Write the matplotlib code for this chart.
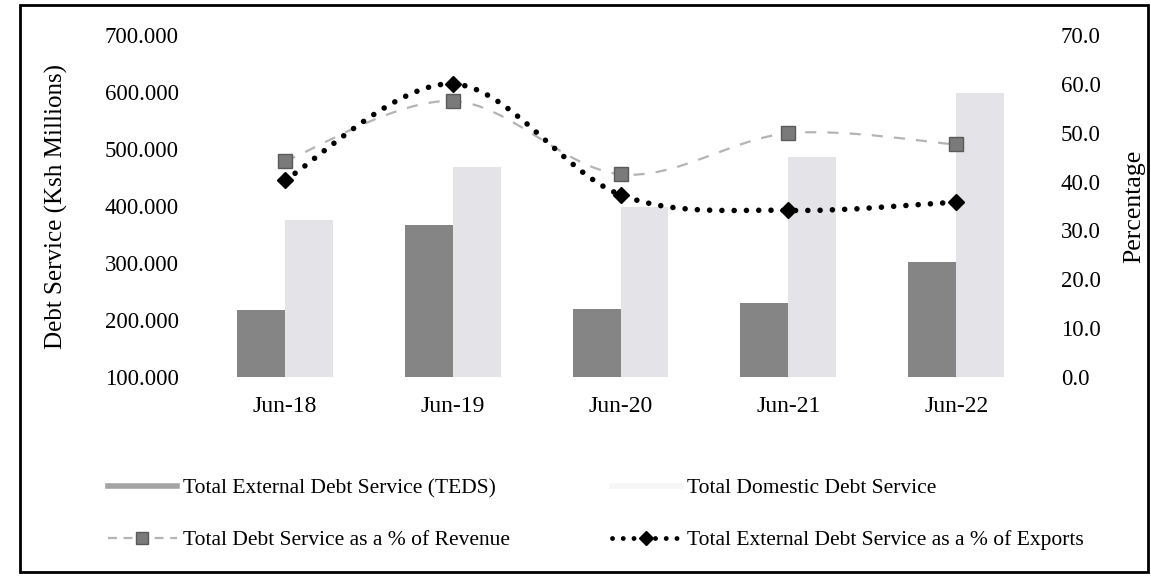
import matplotlib
matplotlib.use("Agg")
import matplotlib.pyplot as plt
from matplotlib.path import Path
from matplotlib.patches import PathPatch, Rectangle
from matplotlib.lines import Line2D
import numpy as np

plt.rcParams['font.family'] = ['Liberation Serif', 'DejaVu Serif']

# data
periods = ['Jun-18', 'Jun-19', 'Jun-20', 'Jun-21', 'Jun-22']
external_ds = [217, 367, 220, 229, 302]      # Ksh millions (dark bars)
domestic_ds = [375, 469, 399, 486, 598]      # Ksh millions (light bars)
pct_revenue = [44.2, 56.5, 41.5, 49.9, 47.6]  # %
pct_exports = [40.3, 60.0, 37.3, 34.1, 35.8]  # %

dark_col = '#858585'
light_col = '#e3e3e8'
rev_col = '#b4b4b4'


def smooth_path(xs, ys):
    # Catmull-Rom style smoothing (like Excel's "smoothed line")
    pts = np.column_stack([xs, ys]).astype(float)
    n = len(pts)
    verts = [pts[0]]
    codes = [Path.MOVETO]
    for i in range(n - 1):
        p0 = pts[i - 1] if i > 0 else pts[i]
        p1 = pts[i]
        p2 = pts[i + 1]
        p3 = pts[i + 2] if i + 2 < n else pts[i + 1]
        c1 = p1 + (p2 - p0) / 6.0
        c2 = p2 - (p3 - p1) / 6.0
        verts += [c1, c2, p2]
        codes += [Path.CURVE4] * 3
    return Path(verts, codes)


fig = plt.figure(figsize=(11.51, 5.77), dpi=100)
ax = fig.add_axes([0.1746, 0.3466, 0.7290, 0.5927])

x = np.arange(len(periods))
w = 0.285
ax.bar(x - w / 2, external_ds, width=w, color=dark_col, zorder=2)
ax.bar(x + w / 2, domestic_ds, width=w, color=light_col, zorder=2)

ax.set_xlim(-0.5, len(periods) - 0.5)
ax.set_ylim(100, 700)
ax.set_yticks(range(100, 701, 100))
ax.set_yticklabels([f'{v:.3f}' for v in range(100, 701, 100)])
ax.set_xticks(x)
ax.set_xticklabels(periods)
ax.tick_params(axis='y', length=0, pad=16, labelsize=16.5)
ax.tick_params(axis='x', length=0, pad=14, labelsize=17)
for s in ax.spines.values():
    s.set_visible(False)
ax.set_ylabel('Debt Service (Ksh Millions)', fontsize=18)
ax.yaxis.set_label_coords(-0.158, 0.5)

ax2 = ax.twinx()
ax2.set_ylim(0, 70)
ax2.set_yticks(range(0, 71, 10))
ax2.set_yticklabels([f'{v:.1f}' for v in range(0, 71, 10)])
ax2.tick_params(axis='y', length=0, pad=15, labelsize=16.5)
for s in ax2.spines.values():
    s.set_visible(False)
ax2.set_ylabel('Percentage', fontsize=18.5)
ax2.yaxis.set_label_coords(1.099, 0.5)

# smoothed lines
ax2.add_patch(PathPatch(smooth_path(x, pct_revenue), fill=False, edgecolor=rev_col,
                        lw=1.6, linestyle=(0, (5, 5)), zorder=3))
ax2.add_patch(PathPatch(smooth_path(x, pct_exports), fill=False, edgecolor='black',
                        lw=4, linestyle=(0, (0.01, 2.2)), capstyle='round', zorder=3))
ax2.plot(x, pct_revenue, linestyle='none', marker='s', markersize=10,
         markerfacecolor='#7a7a7a', markeredgecolor='#5a5a5a', zorder=4)
ax2.plot(x, pct_exports, linestyle='none', marker='D', markersize=8,
         markerfacecolor='black', markeredgecolor='black', zorder=4)

h_teds = Line2D([], [], color='#a4a4a4', lw=4)
h_rev = Line2D([], [], color=rev_col, lw=1.6, linestyle=(0, (4, 3)), marker='s',
               markersize=8, markerfacecolor='#7a7a7a', markeredgecolor='#5a5a5a')
h_dom = Line2D([], [], color='#f6f6f6', lw=4)
h_exp = Line2D([], [], color='black', lw=3.5, linestyle=(0, (0.01, 2.2)),
               dash_capstyle='round', marker='D', markersize=7)

leg_kw = dict(loc='upper left', frameon=False, fontsize=15.5, handlelength=3.2,
              handletextpad=0.3, labelspacing=1.5, borderpad=0, borderaxespad=0)
leg1 = fig.legend([h_teds, h_rev],
                  ['Total External Debt Service (TEDS)',
                   'Total Debt Service as a % of Revenue'],
                  bbox_to_anchor=(108 / 1151, 1 - 478 / 577), **leg_kw)
fig.legend([h_dom, h_exp],
           ['Total Domestic Debt Service',
            'Total External Debt Service as a % of Exports'],
           bbox_to_anchor=(612 / 1151, 1 - 478 / 577), **leg_kw)

fig.add_artist(Rectangle((0.017, 0.008), 0.98, 0.983, transform=fig.transFigure,
                         fill=False, edgecolor='black', lw=2))

fig.savefig('out.png', dpi=100)
